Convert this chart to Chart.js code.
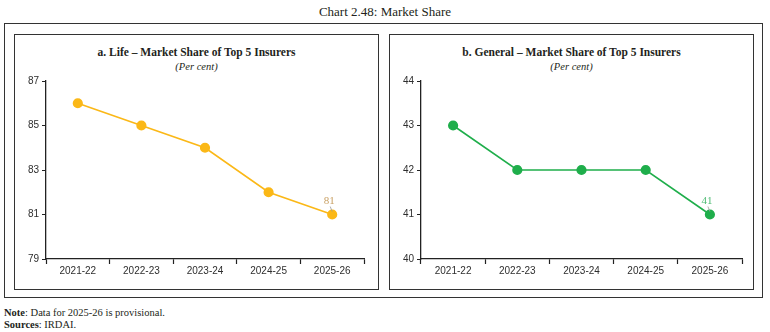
<!DOCTYPE html>
<html>
<head>
<meta charset="utf-8">
<script src="https://cdn.jsdelivr.net/npm/chart.js@4"></script>
<style>
  html,body{margin:0;padding:0;background:#fff;}
  body{width:770px;height:332px;position:relative;overflow:hidden;font-family:"Liberation Serif",serif;color:#231f20;}
  #title{position:absolute;left:0;width:770px;top:4px;text-align:center;font-size:13px;line-height:15px;}
  #outer{position:absolute;left:4px;top:23px;width:759px;height:275px;border:1.5px solid #333;box-sizing:border-box;}
  .panel{position:absolute;top:34px;width:365px;height:256px;border:1.5px solid #333;box-sizing:border-box;}
  #p1{left:14px;} #p2{left:389px;}
  .ptitle{position:absolute;left:0;right:0;top:10px;text-align:center;font-weight:bold;font-size:11.5px;line-height:14px;}
  .psub{position:absolute;left:0;right:0;top:26px;text-align:center;font-style:italic;font-size:10.5px;line-height:12px;}
  .cv{position:absolute;top:37px;left:-1.5px;}
  #note{position:absolute;left:4px;top:307px;font-size:10.5px;line-height:12px;}
</style>
</head>
<body>
<div id="title">Chart 2.48: Market Share</div>
<div id="outer"></div>
<div class="panel" id="p1">
  <div class="ptitle">a. Life – Market Share of Top 5 Insurers</div>
  <div class="psub">(Per cent)</div>
  <div class="cv"><canvas id="c1" width="364" height="217"></canvas></div>
</div>
<div class="panel" id="p2">
  <div class="ptitle">b. General – Market Share of Top 5 Insurers</div>
  <div class="psub">(Per cent)</div>
  <div class="cv"><canvas id="c2" width="364" height="217"></canvas></div>
</div>
<div id="note"><b>Note</b>: Data for 2025-26 is provisional.<br><b>Sources</b>: IRDAI.</div>
<script>
const categories = ["2021-22","2022-23","2023-24","2024-25","2025-26"];
const lifeShare = [86, 85, 84, 82, 81];
const generalShare = [43, 42, 42, 42, 41];
const lifeTicks = [79, 81, 83, 85, 87];
const generalTicks = [40, 41, 42, 43, 44];

const lastLabel = {
  id:'lastLabel',
  afterDatasetsDraw(chart, args, opts){
    const meta = chart.getDatasetMeta(0);
    const ds = chart.data.datasets[0];
    const i = ds.data.length - 1;
    const pt = meta.data[i];
    const ctx = chart.ctx;
    ctx.save();
    ctx.strokeStyle = '#9a9a9a';
    ctx.lineWidth = 0.8;
    ctx.beginPath();
    ctx.moveTo(pt.x - 2, pt.y - 8);
    ctx.lineTo(pt.x, pt.y - 3);
    ctx.stroke();
    ctx.fillStyle = opts.color;
    ctx.font = '11px "Liberation Serif"';
    ctx.textAlign = 'center';
    ctx.textBaseline = 'middle';
    ctx.fillText(String(ds.data[i]), pt.x - 3, pt.y - 13);
    ctx.restore();
  }
};

function makeChart(id, values, ticks, color, labelColor, rightPad){
  new Chart(document.getElementById(id), {
    type:'line',
    data:{labels:categories, datasets:[{data:values, borderColor:color, backgroundColor:color,
      pointBackgroundColor:color, pointBorderColor:color, pointRadius:4.3, borderWidth:1.6, tension:0}]},
    options:{
      responsive:false, animation:false,
      layout:{padding:{left:0,right:rightPad,top:7,bottom:0}},
      plugins:{legend:{display:false}, tooltip:{enabled:false}, lastLabel:{color:labelColor}},
      scales:{
        x:{offset:true,
          grid:{display:true, offset:true, drawOnChartArea:false, tickLength:5, color:'#222', tickWidth:1.2},
          border:{display:true, color:'#222', width:1.3},
          ticks:{color:'#2e2e2e', font:{family:'"Liberation Sans"', size:10}, padding:1, maxRotation:0},
          afterFit(s){ s.height = 30; }
        },
        y:{min:ticks[0], max:ticks[ticks.length-1],
          afterBuildTicks(s){ s.ticks = ticks.map(v=>({value:v})); },
          grid:{display:true, drawOnChartArea:false, tickLength:4, color:'#222', tickWidth:1},
          border:{display:true, color:'#222', width:1.3},
          ticks:{color:'#2e2e2e', font:{family:'"Liberation Sans"', size:10}, padding:3},
          afterFit(s){ s.width = 32; }
        }
      }
    },
    plugins:[lastLabel]
  });
}
makeChart('c1', lifeShare, lifeTicks, '#fbb817', '#c9a064', 14);
makeChart('c2', generalShare, generalTicks, '#1fae4b', '#4fbb74', 11);
</script>
</body>
</html>
